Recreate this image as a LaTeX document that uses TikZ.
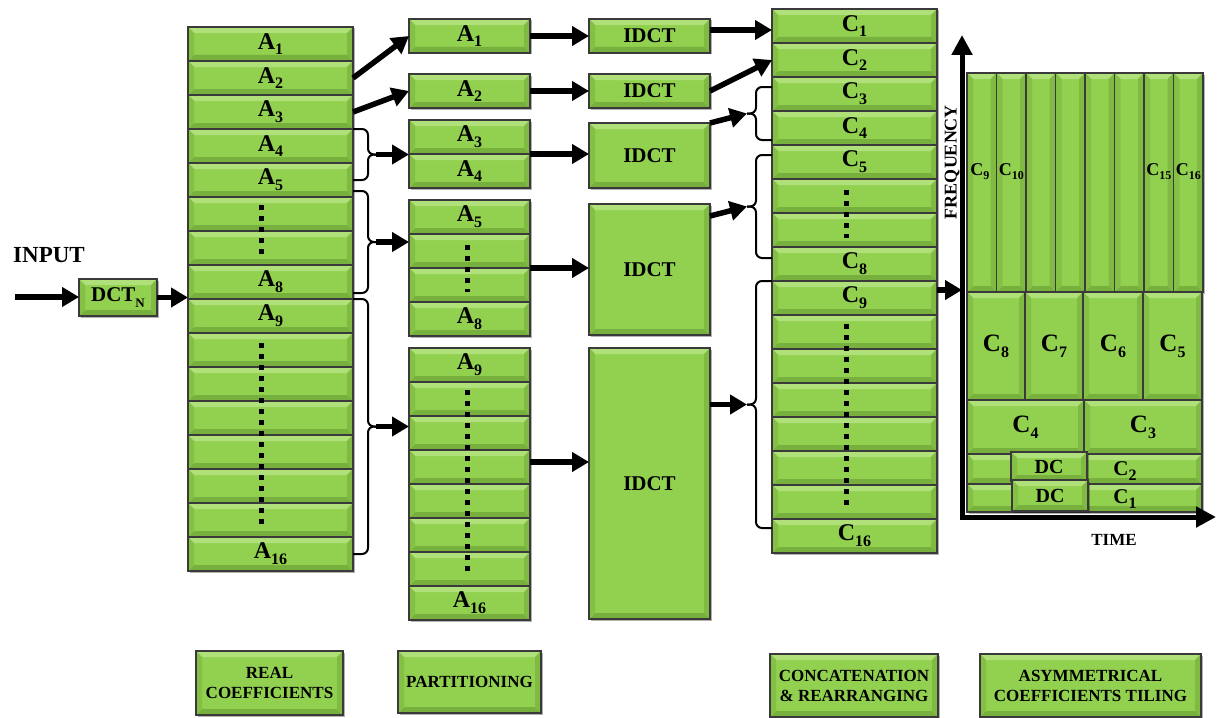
\documentclass[tikz,border=0pt]{standalone}
\usepackage{fontspec}
\setmainfont{Liberation Serif}
\usetikzlibrary{arrows.meta,calc,shadows}
\definecolor{gmid}{HTML}{92D050}
\definecolor{gtop}{HTML}{B0E07A}
\definecolor{gbot}{HTML}{78B03E}
\definecolor{gleft}{HTML}{84C046}
\definecolor{gright}{HTML}{80BA43}
\definecolor{edgec}{HTML}{3A3A3A}
\newcommand{\sbs}[1]{\raisebox{-0.24em}{\fontsize{16}{16}\selectfont #1}}
\newcommand{\lbl}[2]{#1\sbs{#2}}
\newcommand{\slbl}[2]{#1\raisebox{-0.22em}{\fontsize{12}{12}\selectfont #2}}
\tikzset{
 cell/.style={draw=edgec, line width=1.1pt, fill=gmid, inner sep=0pt, outer sep=0pt, anchor=north west,
   font=\fontsize{24}{26}\selectfont\bfseries,
   drop shadow={shadow xshift=1.5pt, shadow yshift=-1.5pt, opacity=0.3, fill=black},
   path picture={
     \fill[gtop] (path picture bounding box.north west) -- (path picture bounding box.north east)
        -- ([xshift=-6pt,yshift=-6pt]path picture bounding box.north east)
        -- ([xshift=6pt,yshift=-6pt]path picture bounding box.north west) -- cycle;
     \fill[gbot] (path picture bounding box.south west) -- (path picture bounding box.south east)
        -- ([xshift=-6pt,yshift=6pt]path picture bounding box.south east)
        -- ([xshift=6pt,yshift=6pt]path picture bounding box.south west) -- cycle;
     \fill[gleft] (path picture bounding box.north west) -- (path picture bounding box.south west)
        -- ([xshift=6pt,yshift=6pt]path picture bounding box.south west)
        -- ([xshift=6pt,yshift=-6pt]path picture bounding box.north west) -- cycle;
     \fill[gright] (path picture bounding box.north east) -- (path picture bounding box.south east)
        -- ([xshift=-6pt,yshift=6pt]path picture bounding box.south east)
        -- ([xshift=-6pt,yshift=-6pt]path picture bounding box.north east) -- cycle;
   }},
 idct/.style={cell, font=\fontsize{21}{24}\selectfont\bfseries},
 big/.style={cell, font=\fontsize{25}{27}\selectfont\bfseries},
 tl/.style={inner sep=0pt, font=\fontsize{21}{24}\selectfont\bfseries},
 stl/.style={inner sep=0pt, font=\fontsize{18}{19}\selectfont\bfseries},
 arr/.style={draw=black, line width=5.5pt, -{Triangle[length=17pt,width=19pt]}},
 brc/.style={draw=black, line width=2pt, rounded corners=6pt},
 dts/.style={draw=black, line width=5pt, dash pattern=on 5pt off 6pt},
 axis/.style={draw=black, line width=5pt, {Triangle[length=20pt,width=20pt]}-{Triangle[length=20pt,width=20pt]}},
 botlab/.style={cell, align=center, font=\fontsize{17}{20}\selectfont\bfseries},
}
\begin{document}
\begin{tikzpicture}[x=1pt,y=-1pt]
\useasboundingbox (0,0) rectangle (1217,717);
% input
\node[inner sep=0pt, font=\fontsize{23}{23}\selectfont\bfseries] (inputl) at (49,255) {INPUT};
\node[cell, minimum width=78pt, minimum height=37pt, font=\fontsize{21}{22}\selectfont\bfseries] (dct) at (79,279) {DCT\raisebox{-0.25em}{\fontsize{13}{13}\selectfont N}};
% column A
\foreach \i/\t in {1/\lbl{A}{1},2/\lbl{A}{2},3/\lbl{A}{3},4/\lbl{A}{4},5/\lbl{A}{5},6/{},7/{},8/\lbl{A}{8},
  9/\lbl{A}{9},10/{},11/{},12/{},13/{},14/{},15/{},16/\lbl{A}{16}}
  \node[cell, minimum width=165pt, minimum height=34pt] (a\i) at (188,{27+34*(\i-1)}) {\t};
% partition column
\node[cell, minimum width=121pt, minimum height=34pt] (p1) at (409,19) {\lbl{A}{1}};
\node[cell, minimum width=121pt, minimum height=34pt] (p2) at (409,74) {\lbl{A}{2}};
\node[cell, minimum width=121pt, minimum height=34pt] (p3) at (409,120) {\lbl{A}{3}};
\node[cell, minimum width=121pt, minimum height=34pt] (p4) at (409,154) {\lbl{A}{4}};
\foreach \i/\t in {5/\lbl{A}{5},6/{},7/{},8/\lbl{A}{8}}
  \node[cell, minimum width=121pt, minimum height=34pt] (p\i) at (409,{200+34*(\i-5)}) {\t};
\foreach \i/\t in {9/\lbl{A}{9},10/{},11/{},12/{},13/{},14/{},15/{},16/\lbl{A}{16}}
  \node[cell, minimum width=121pt, minimum height=34pt] (p\i) at (409,{348+34*(\i-9)}) {\t};
% IDCT column
\node[idct, minimum width=121pt, minimum height=34pt] (i1) at (589,19) {IDCT};
\node[idct, minimum width=121pt, minimum height=34pt] (i2) at (589,74) {IDCT};
\node[idct, minimum width=121pt, minimum height=65pt] (i3) at (589,123) {IDCT};
\node[idct, minimum width=121pt, minimum height=131pt] (i4) at (589,204) {IDCT};
\node[idct, minimum width=121pt, minimum height=271pt] (i5) at (589,348) {IDCT};
% column C
\foreach \i/\t in {1/\lbl{C}{1},2/\lbl{C}{2},3/\lbl{C}{3},4/\lbl{C}{4},5/\lbl{C}{5},6/{},7/{},8/\lbl{C}{8},
  9/\lbl{C}{9},10/{},11/{},12/{},13/{},14/{},15/{},16/\lbl{C}{16}}
  \node[cell, minimum width=165pt, minimum height=34pt] (c\i) at (772,{9+34*(\i-1)}) {\t};
% dots
\draw[dts] ($(a6.north)+(-9,8)$) -- ($(a7.south)+(-9,-6)$);
\draw[dts] ($(a10.north)+(-9,10)$) -- ($(a15.south)+(-9,-9)$);
\draw[dts] ($(p6.north)+(-2,11)$) -- ($(p7.south)+(-2,-10)$);
\draw[dts] ($(p10.north)+(-2,8)$) -- ($(p15.south)+(-2,-12)$);
\draw[dts] ($(c6.north)+(-8,11)$) -- ($(c7.south)+(-8,-9)$);
\draw[dts] ($(c10.north)+(-8,9)$) -- ($(c15.south)+(-8,-11)$);
% chart tiles
\foreach \k in {1,...,8}
  \node[cell, minimum width=29.5pt, minimum height=219pt] (s\k) at ({967+29.5*(\k-1)},73) {};
\node[stl] (s1l) at ($(s1.center)+(-2,-11)$) {\slbl{C}{9}};
\node[stl] (s2l) at ($(s2.center)+(0,-11)$) {\slbl{C}{10}};
\node[stl] (s7l) at ($(s7.center)+(0,-11)$) {\slbl{C}{15}};
\node[stl] (s8l) at ($(s8.center)+(0,-11)$) {\slbl{C}{16}};
\node[big, minimum width=58pt, minimum height=108pt] (t8) at (967,292) {\lbl{C}{8}};
\node[big, minimum width=58pt, minimum height=108pt] (t7) at (1025,292) {\lbl{C}{7}};
\node[big, minimum width=60pt, minimum height=108pt] (t6) at (1083,292) {\lbl{C}{6}};
\node[big, minimum width=59pt, minimum height=108pt] (t5) at (1143,292) {\lbl{C}{5}};
\node[big, minimum width=117pt, minimum height=54pt] (t4) at (967,400) {\lbl{C}{4}};
\node[big, minimum width=118pt, minimum height=54pt] (t3) at (1084,400) {\lbl{C}{3}};
\node[cell, minimum width=235pt, minimum height=30pt] (r2) at (967,454) {};
\node[cell, minimum width=235pt, minimum height=28pt] (r1) at (967,484) {};
\node[tl] (r2l) at (1125,471) {\lbl{C}{2}};
\node[tl] (r1l) at (1125,499) {\lbl{C}{1}};
\node[cell, minimum width=76pt, minimum height=29pt, font=\fontsize{20}{22}\selectfont\bfseries] (dc2) at (1011,452) {DC};
\node[cell, minimum width=76pt, minimum height=31pt, font=\fontsize{20}{22}\selectfont\bfseries] (dc1) at (1012,480) {DC};
% axes
\coordinate (o) at (962,517);
\coordinate (ytop) at (962,35);
\coordinate (xend) at (1216,517);
\draw[axis] (ytop) -- (o) -- (xend);
\node[rotate=90, inner sep=0pt, font=\fontsize{18}{18}\selectfont\bfseries] (freq) at (952,162) {FREQUENCY};
\node[inner sep=0pt, font=\fontsize{17}{17}\selectfont\bfseries] (timel) at (1114,540) {TIME};
% bottom labels
\node[botlab, minimum width=147pt, minimum height=64pt] (lb1) at (196,651) {REAL\\COEFFICIENTS};
\node[botlab, minimum width=143pt, minimum height=62pt] (lb2) at (398,651) {PARTITIONING};
\node[botlab, minimum width=168pt, minimum height=63pt] (lb3) at (770,654) {CONCATENATION\\\& REARRANGING};
\node[botlab, minimum width=221pt, minimum height=63pt] (lb4) at (980,654) {ASYMMETRICAL\\COEFFICIENTS TILING};
% input arrows
\coordinate (inp) at (15,297);
\draw[arr] (inp) -- (inp -| dct.west);
\draw[arr] (dct.east) -- (dct.east -| a8.west);
% A -> P
\draw[arr] (a2.east) -- (p1.west);
\draw[arr] (a3.east) -- (p2.west);
\coordinate (t1) at ($(a4.north east)!0.5!(a5.east)+(23,0)$);
\draw[brc] (a4.north east) -| ($(t1)+(-8,0)$) -- (t1);
\draw[brc] (a5.east) -| ($(t1)+(-8,0)$) -- (t1);
\draw[arr] (t1) -- (t1 -| p3.west);
\coordinate (t2a) at ($(a5.south east)+(0,-6)$);
\coordinate (t2b) at ($(a8.south east)+(0,-6)$);
\coordinate (t2) at ($(t2a)!0.5!(t2b)+(23,0)$);
\draw[brc] (t2a) -| ($(t2)+(-8,0)$) -- (t2);
\draw[brc] (t2b) -| ($(t2)+(-8,0)$) -- (t2);
\draw[arr] (t2) -- (t2 -| p5.west);
\coordinate (t3) at ($(a9.north east)!0.5!(a16.east)+(23,0)$);
\draw[brc] (a9.north east) -| ($(t3)+(-8,0)$) -- (t3);
\draw[brc] (a16.east) -| ($(t3)+(-8,0)$) -- (t3);
\draw[arr] (t3) -- (t3 -| p9.west);
% P -> IDCT
\draw[arr] (p1.east) -- (i1.west);
\draw[arr] (p2.east) -- (i2.west);
\draw[arr] (p3.south east) -- (p3.south east -| i3.west);
\draw[arr] (p6.south east) -- (p6.south east -| i4.west);
\draw[arr] ($(p12.north east)+(0,12)$) -- ($(p12.north east)+(59,12)$);
% IDCT -> C
\draw[arr] ($(i1.east)+(0,-6)$) -- ($(i1.east)+(62,-6)$);
\draw[arr] (i2.east) -- (c2.west);
\coordinate (u1a) at ($(c3.north west)+(0,10)$);
\coordinate (u1b) at ($(c4.south west)+(0,-5)$);
\coordinate (u1) at ($(u1a)!0.5!(u1b)+(-25,0)$);
\draw[brc] (u1a) -| ($(u1)+(9,0)$) -- (u1);
\draw[brc] (u1b) -| ($(u1)+(9,0)$) -- (u1);
\draw[arr] (i3.north east) -- (u1);
\coordinate (u2a) at ($(c5.north west)+(0,10)$);
\coordinate (u2b) at ($(c8.north west)+(0,11)$);
\coordinate (u2) at ($(u2a)!0.5!(u2b)+(-25,0)$);
\draw[brc] (u2a) -| ($(u2)+(9,0)$) -- (u2);
\draw[brc] (u2b) -| ($(u2)+(9,0)$) -- (u2);
\draw[arr] ($(i4.north east)+(0,12)$) -- (u2);
\coordinate (u3a) at (c9.north west);
\coordinate (u3b) at ($(c16.north west)+(0,9)$);
\coordinate (u3) at ($(u3a)!0.5!(u3b)+(-25,0)$);
\draw[brc] (u3a) -| ($(u3)+(9,0)$) -- (u3);
\draw[brc] (u3b) -| ($(u3)+(9,0)$) -- (u3);
\draw[arr] (u3 -| i5.east) -- (u3);
% C -> chart
\coordinate (cx) at ($(c9.north east)+(0,9)$);
\draw[arr] (cx) -- (cx -| o);
\end{tikzpicture}
\end{document}
